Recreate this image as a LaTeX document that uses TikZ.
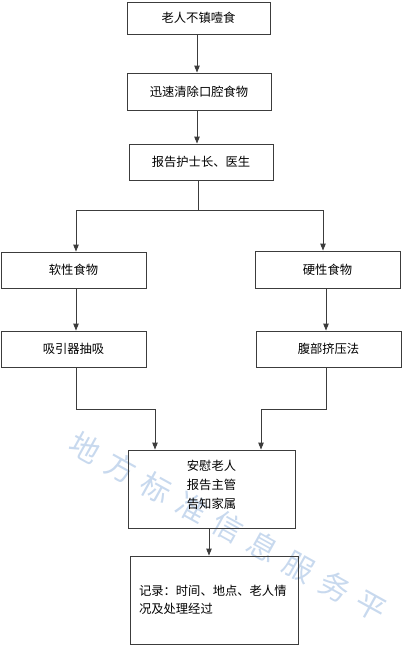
\documentclass[tikz,border=0pt]{standalone}
\usepackage{fontspec}
\setmainfont{Noto Sans CJK SC}
\newfontfamily\wmfont{Noto Sans CJK SC}[LetterSpace=36]
\usetikzlibrary{arrows.meta}
\definecolor{ln}{RGB}{60,60,60}
\definecolor{wm}{RGB}{200,217,238}
\tikzset{
  box/.style={draw=ln, line width=0.9pt, inner sep=0pt, font=\fontsize{12.3}{19}\selectfont},
  conn/.style={draw=ln, line width=0.9pt, -{Triangle[length=7pt,width=5.5pt]}},
  plain/.style={draw=ln, line width=0.9pt}
}
\begin{document}
\begin{tikzpicture}[x=1pt,y=-1pt]
\useasboundingbox (0,0) rectangle (403,649);
\node[text=wm, rotate=-29, font=\wmfont\fontsize{30}{30}\selectfont] (wmark) at (228,527) {地方标准信息服务平};
\node[box, minimum width=143pt, minimum height=32pt] (b1) at (198.5,18) {老人不镇噎食};
\node[box, minimum width=144pt, minimum height=37pt] (b2) at (199,91.5) {迅速清除口腔食物};
\node[box, minimum width=144pt, minimum height=36pt] (b3) at (201,162) {报告护士长、医生};
\node[box, minimum width=145pt, minimum height=36pt] (b4) at (73.5,270) {软性食物};
\node[box, minimum width=145pt, minimum height=37pt] (b5) at (327.5,269.5) {硬性食物};
\node[box, minimum width=145pt, minimum height=36pt] (b6) at (73.5,349) {吸引器抽吸};
\node[box, minimum width=145pt, minimum height=36pt] (b7) at (328.5,349) {腹部挤压法};
\node[box, minimum width=167pt, minimum height=78pt] (b8) at (211.5,489) {};
\node[box, draw=none, align=left] (t8) at (211.5,484.5) {安慰老人\\报告主管\\告知家属};
\node[box, minimum width=168pt, minimum height=88pt, text width=150pt, align=left, font=\fontsize{12.3}{18.5}\selectfont] (b9) at (214,600) {记录：时间、地点、老人情\\况及处理经过};
\coordinate (s3) at (198,210);
\coordinate (sl) at (76,210);
\coordinate (sr) at (323,210);
\coordinate (l1) at (76,409);
\coordinate (l2) at (155,409);
\coordinate (r1) at (326,409);
\coordinate (r2) at (261,409);
\draw[conn] (b1.south -| 197,0) -- (b2.north -| 197,0);
\draw[conn] (b2.south -| 197,0) -- (b3.north -| 197,0);
\draw[plain] (b3.south -| s3) -- (s3);
\draw[plain] (sl) -- (sr);
\draw[conn] (sl) -- (b4.north -| sl);
\draw[conn] (sr) -- (b5.north -| sr);
\draw[conn] (b4.south -| sl) -- (b6.north -| sl);
\draw[conn] (b5.south -| r1) -- (b7.north -| r1);
\draw[plain] (b6.south -| l1) -- (l1) -- (l2);
\draw[conn] (l2) -- (b8.north -| l2);
\draw[plain] (b7.south -| r1) -- (r1) -- (r2);
\draw[conn] (r2) -- (b8.north -| r2);
\draw[conn] (b8.south -| 209,0) -- (b9.north -| 209,0);
\end{tikzpicture}
\end{document}
